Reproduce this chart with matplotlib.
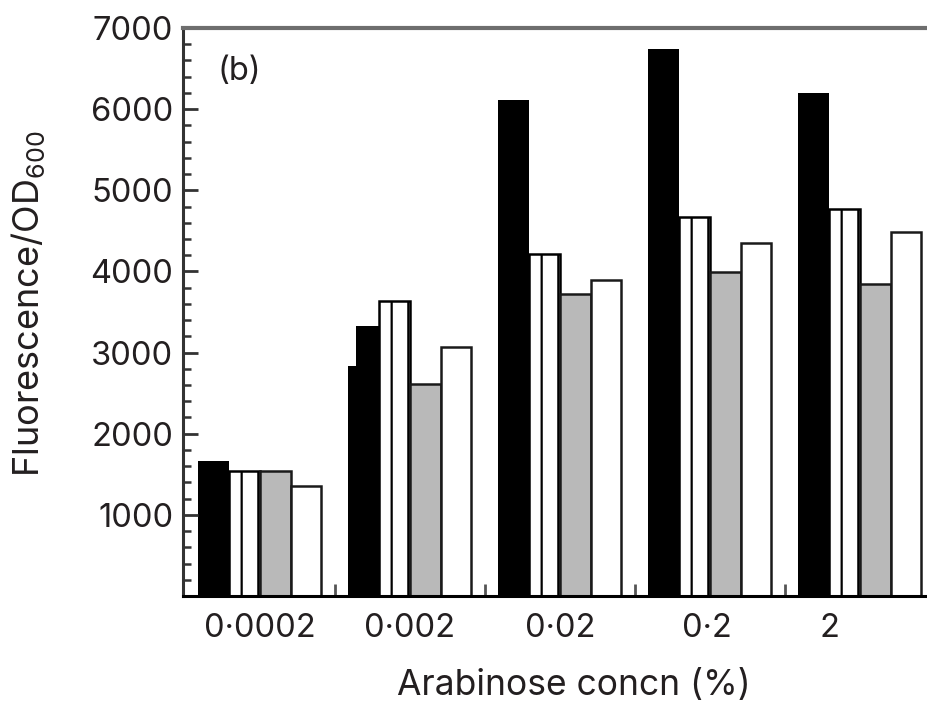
import numpy as np
import matplotlib
matplotlib.use('Agg')
import matplotlib.pyplot as plt
from matplotlib.ticker import MultipleLocator, FixedLocator

plt.rcParams['font.family'] = ['Inter', 'DejaVu Sans']
plt.rcParams['hatch.linewidth'] = 1.6

# arabinose concentrations (%) and fluorescence/OD600
conc_labels = ['0·0002', '0·002', '0·02', '0·2', '2']
black_vals = [1660, 3330, 6110, 6740, 6200]
hatched_vals = [1535, 3640, 4220, 4670, 4770]
grey_vals = [1535, 2610, 3720, 3990, 3850]
white_vals = [1350, 3070, 3900, 4350, 4480]
# the black bar at 0.002% has a lower shoulder on its left side
step_val = 2830

x = np.arange(len(conc_labels))
w = 0.205
txt = '#231f20'

fig = plt.figure(figsize=(9.27, 7.02), dpi=100)
ax = fig.add_axes([183 / 927, 106 / 702, 744 / 927, 568 / 702])

ax.bar(x - 1.5 * w, black_vals, w, color='black', linewidth=0)
# cut the shoulder out of the 0.002% black bar
ax.bar(x[1] - 2.05 * w, black_vals[1] - step_val + 40, 0.3 * w, bottom=step_val,
       align='edge', color='white', linewidth=0, zorder=1.5)
ax.bar(x - 0.5 * w, hatched_vals, w, color='white', edgecolor='black', hatch='|', linewidth=1.8, zorder=2)
ax.bar(x + 0.5 * w, grey_vals, w, color='#b9b9b9', edgecolor='#1a1a1a', linewidth=1.8, zorder=2)
ax.bar(x + 1.5 * w, white_vals, w, color='white', edgecolor='#1a1a1a', linewidth=1.8, zorder=2)

ax.set_xlim(-0.513, 4.447)
ax.set_ylim(0, 7000)

ax.yaxis.set_minor_locator(MultipleLocator(200))
ax.set_yticks(np.arange(1000, 7001, 1000))
ax.tick_params(axis='y', which='major', direction='in', length=11, width=2,
               labelsize=23.5, pad=7, labelcolor=txt, color='#333333')
ax.tick_params(axis='y', which='minor', direction='in', length=6, width=1.8, color='#333333')

ax.set_xticks([0, 1, 2, 2.98, 3.8])
ax.set_xticklabels(conc_labels)
ax.xaxis.set_minor_locator(FixedLocator(x[:-1] + 0.5))
ax.tick_params(axis='x', which='major', length=0, labelsize=23.5, pad=12, labelcolor=txt)
ax.tick_params(axis='x', which='minor', direction='in', length=9, width=2, color='#555555')

ax.spines['right'].set_visible(False)
ax.spines['top'].set_color('#6e6e6e')
ax.spines['top'].set_linewidth(3)
ax.spines['left'].set_color('#333333')
ax.spines['left'].set_linewidth(2.2)
ax.spines['bottom'].set_color('black')
ax.spines['bottom'].set_linewidth(2.2)

ax.set_xlabel('Arabinose concn (%)', fontsize=25.5, color=txt)
ax.xaxis.set_label_coords(0.525, -0.128)
ax.set_ylabel('Fluorescence/OD$_{\\mathregular{600}}$', fontsize=26, color=txt)
ax.yaxis.set_label_coords(-0.183, 0.514)

ax.text(0.047, 0.924, '(b)', transform=ax.transAxes, fontsize=23.5, color=txt, va='center')

fig.savefig('out.png', dpi=100)
